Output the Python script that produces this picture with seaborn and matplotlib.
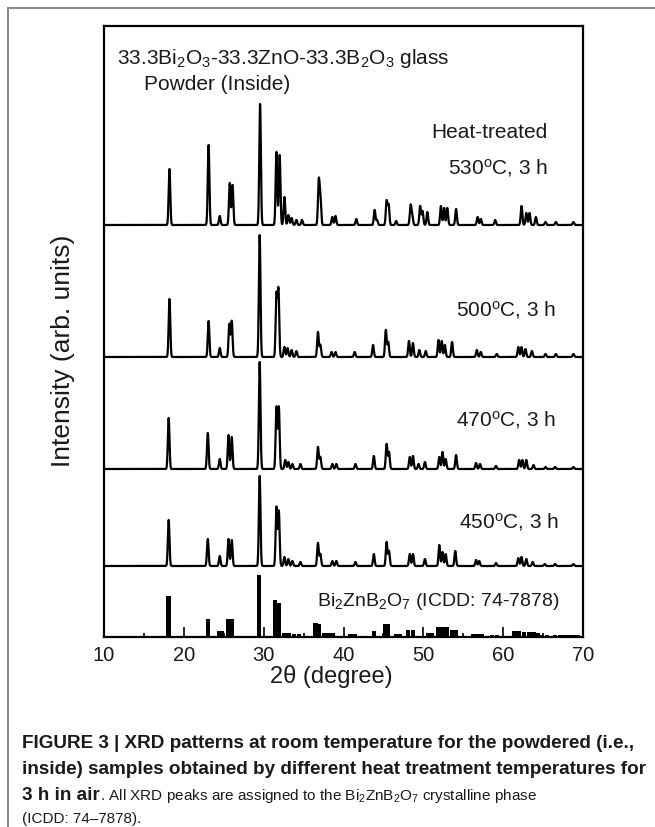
import numpy as np
import pandas as pd
import matplotlib.pyplot as plt
import seaborn as sns
from matplotlib.lines import Line2D
from matplotlib.ticker import MultipleLocator

# peak positions (2theta, deg) and heights (arb. units)
pk_530 = [18.2, 23.1, 24.5, 25.75, 26.1, 29.55, 31.6, 32.0, 32.6, 33.1, 33.5, 34.1, 34.8,
          36.9, 37.1, 38.6, 39.0, 41.6, 43.9, 44.2, 45.4, 45.65, 46.6, 48.4, 48.6, 49.6,
          49.9, 50.5, 52.2, 52.6, 53.0, 54.1, 56.8, 57.2, 59.0, 62.3, 62.9, 63.3, 64.1,
          65.3, 66.6, 68.8]
h_530 = [56, 80, 9, 42, 40, 121, 73, 70, 28, 10, 7, 5, 5,
         43, 27, 8, 9, 6, 15, 5, 24, 20, 4, 19, 10, 19,
         14, 13, 19, 17, 17, 16, 8, 6, 5, 19, 12, 12, 8,
         3, 3, 3]

pk_500 = [18.2, 23.1, 24.5, 25.7, 26.0, 29.5, 31.6, 31.85, 32.6, 33.0, 33.5, 34.1,
          36.8, 37.1, 38.5, 39.0, 41.4, 43.7, 45.3, 45.6, 48.2, 48.7, 49.5, 50.3,
          51.9, 52.3, 52.7, 53.6, 56.7, 57.2, 59.2, 61.9, 62.3, 62.8, 63.6, 65.3, 66.6, 68.8]
h_500 = [58, 36, 9, 33, 36, 122, 62, 67, 10, 9, 7, 6,
         25, 12, 5, 5, 5, 12, 27, 15, 16, 14, 7, 6,
         17, 16, 12, 15, 7, 5, 3, 10, 10, 8, 6, 3, 3, 3]

pk_470 = [18.1, 23.0, 24.5, 25.6, 26.0, 29.5, 31.6, 31.9, 32.7, 33.1, 33.6, 34.6,
          36.8, 37.1, 38.6, 39.1, 41.5, 43.8, 45.4, 45.7, 48.3, 48.7, 49.4, 50.2,
          52.0, 52.4, 52.8, 54.1, 56.6, 57.1, 59.1, 62.0, 62.4, 62.9, 63.8, 65.3, 66.5, 68.8]
h_470 = [51, 36, 10, 34, 32, 107, 62, 62, 9, 7, 5, 5,
         22, 12, 5, 5, 5, 13, 25, 17, 12, 13, 5, 7,
         12, 17, 10, 14, 6, 5, 3, 9, 9, 9, 4, 2, 2, 2]

pk_450 = [18.1, 23.0, 24.5, 25.6, 26.0, 29.5, 31.6, 31.9, 32.6, 33.1, 33.6, 34.6,
          36.8, 37.1, 38.6, 39.1, 41.5, 43.8, 45.4, 45.7, 48.3, 48.7, 50.2,
          52.0, 52.4, 52.8, 54.0, 56.6, 57.0, 59.1, 61.9, 62.3, 62.9, 63.7, 65.2, 66.5, 68.8]
h_450 = [46, 27, 10, 27, 26, 90, 59, 55, 9, 7, 5, 4,
         23, 12, 5, 5, 4, 12, 24, 15, 12, 12, 7,
         21, 14, 12, 15, 6, 5, 3, 8, 9, 7, 4, 2, 2, 2]

# ICDD 74-7878 reference lines
icdd_pos = [18.1, 23.0, 24.4, 24.8, 25.5, 26.0, 29.4, 31.4, 31.9, 32.6, 33.2, 33.8, 34.4,
            36.5, 36.9, 37.6, 38.2, 38.7, 40.9, 41.4, 43.8, 45.2, 45.6, 46.6, 47.1,
            48.1, 48.7, 50.6, 51.1, 51.9, 52.5, 53.0, 53.6, 54.1, 56.2, 56.8, 57.3,
            58.6, 59.2, 61.4, 62.0, 62.6, 63.2, 63.8, 64.3, 64.9, 65.5, 66.5, 67.1,
            67.7, 68.3, 68.9, 69.4]
icdd_h = [41, 18, 6, 6, 18, 18, 62, 37, 34, 4, 4, 3, 3,
          14, 13, 4, 4, 4, 3, 3, 6, 13, 13, 3, 3,
          7, 7, 4, 4, 10, 10, 10, 7, 7, 3, 3, 3,
          2, 2, 6, 6, 5, 5, 5, 4, 2, 2, 2, 2,
          2, 2, 2, 2]

labels = ["530$^{o}$C, 3 h", "500$^{o}$C, 3 h", "470$^{o}$C, 3 h", "450$^{o}$C, 3 h"]

sns.set_style("ticks")
plt.rcParams['font.family'] = ['Liberation Sans', 'DejaVu Sans']
plt.rcParams['mathtext.default'] = 'regular'
plt.rcParams['text.color'] = '#1a1a1a'
plt.rcParams['axes.labelcolor'] = '#1a1a1a'
plt.rcParams['xtick.color'] = 'black'
plt.rcParams['xtick.labelcolor'] = '#1a1a1a'

fig = plt.figure(figsize=(6.55, 8.28), dpi=100)
ax = fig.add_axes([104/655, 1-638/828, 479/655, 611/828])

tt = np.arange(10, 70.001, 0.01)
offsets = [412, 280, 168, 71]
label_y = [470, 328, 218, 116]
label_x = [65.6, 66.6, 66.6, 67.0]
patterns = [(pk_530, h_530), (pk_500, h_500), (pk_470, h_470), (pk_450, h_450)]

for (pk, hh), off, lab, lx, ly in zip(patterns, offsets, labels, label_x, label_y):
    I = np.zeros_like(tt)
    for p, h in zip(pk, hh):
        I += h * np.exp(-0.5 * ((tt - p) / 0.1) ** 2)
    df = pd.DataFrame({'tt': tt, 'I': I + off})
    sns.lineplot(data=df, x='tt', y='I', ax=ax, color='black', lw=1.6, estimator=None)
    ax.text(lx, ly, lab, ha='right', va='center', fontsize=15)

ax.bar(icdd_pos, icdd_h, width=0.55, color='black', linewidth=0)
ax.text(67.0, 36, "Bi$_2$ZnB$_2$O$_7$ (ICDD: 74-7878)", ha='right', va='center', fontsize=14)

ax.text(11.6, 580, "33.3Bi$_2$O$_3$-33.3ZnO-33.3B$_2$O$_3$ glass", ha='left', va='center', fontsize=15)
ax.text(15.0, 554, "Powder (Inside)", ha='left', va='center', fontsize=15)
ax.text(65.6, 505, "Heat-treated", ha='right', va='center', fontsize=15)

ax.set_xlim(10, 70)
ax.set_ylim(0, 611)
ax.set_yticks([])
ax.xaxis.set_major_locator(MultipleLocator(10))
ax.xaxis.set_minor_locator(MultipleLocator(5))
ax.tick_params(axis='x', which='major', direction='in', length=7, width=1.2, labelsize=14.5, pad=6)
ax.tick_params(axis='x', which='minor', direction='in', length=3, width=1.2)
for s in ax.spines.values():
    s.set_visible(True)
    s.set_linewidth(1.6)
    s.set_color('black')
ax.set_xlabel("2θ (degree)", fontsize=17, labelpad=0)
ax.xaxis.set_label_coords(0.475, -0.045)
ax.set_ylabel("Intensity (arb. units)", fontsize=19)
ax.yaxis.set_label_coords(-0.06, 0.47)

# outer panel frame
fig.add_artist(Line2D([8/655, 8/655], [0, 1-9/828], transform=fig.transFigure, color='#8a8a8a', lw=1.5))
fig.add_artist(Line2D([8/655, 1], [1-9/828, 1-9/828], transform=fig.transFigure, color='#8a8a8a', lw=1.5))

# caption
cx = 22/655
fig.text(cx, 1-744/828, "FIGURE 3 | XRD patterns at room temperature for the powdered (i.e.,",
         fontsize=13.6, fontweight='bold', va='center')
fig.text(cx, 1-770/828, "inside) samples obtained by different heat treatment temperatures for",
         fontsize=13.6, fontweight='bold', va='center')
t1 = fig.text(cx, 1-796/828, "3 h in air", fontsize=13.6, fontweight='bold', va='center')
fig.canvas.draw()
bb = t1.get_window_extent(fig.canvas.get_renderer())
fig.text(bb.x1 / fig.bbox.width, 1-796/828,
         ". All XRD peaks are assigned to the Bi$_2$ZnB$_2$O$_7$ crystalline phase",
         fontsize=11, va='center')
fig.text(cx, 1-819/828, "(ICDD: 74–7878).", fontsize=11, va='center')

fig.savefig("out.png", dpi=100)
